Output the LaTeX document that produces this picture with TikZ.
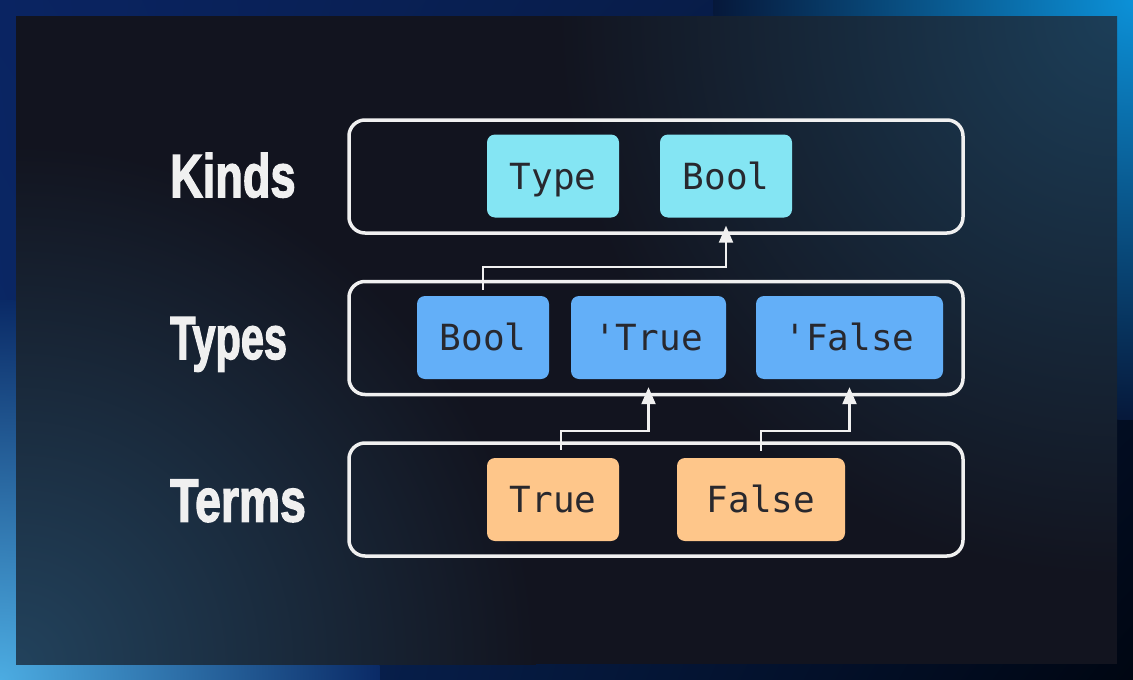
\documentclass[tikz,border=0pt]{standalone}
\usepackage{fontspec}
\usepackage{graphicx}
\usetikzlibrary{arrows.meta,shadings}
\newfontfamily\monofont{DejaVu Sans Mono}
\newfontfamily\lblfont[FakeBold=2.5]{Liberation Sans Bold}
\definecolor{cyanbox}{HTML}{84E5F3}
\definecolor{bluebox}{HTML}{63AFF8}
\definecolor{orangebox}{HTML}{FEC68A}
\definecolor{boxtext}{HTML}{28282E}
\definecolor{panel}{HTML}{12141F}
\definecolor{lineclr}{HTML}{F0F0F0}
\definecolor{navy}{HTML}{051430}
\definecolor{ulc}{HTML}{0A2462}
\definecolor{urc}{HTML}{06183A}
\definecolor{llc}{HTML}{0A2A66}
\definecolor{lrc}{HTML}{000612}
\definecolor{glowtr}{HTML}{0C91D8}
\definecolor{glowbl}{HTML}{4CACE2}
\definecolor{ptr}{HTML}{1C3E58}
\definecolor{pbl}{HTML}{22425C}
\tikzset{
  chip/.style={rounded corners=8pt, minimum height=83pt, inner sep=0pt, text=boxtext,
    font=\monofont\fontsize{36}{36}\selectfont, text height=26pt, text depth=0pt},
  layer/.style={draw=lineclr, line width=3.5pt, rounded corners=16pt, minimum width=614pt, minimum height=113pt, inner sep=0pt},
  arr/.style={draw=lineclr, line width=2.2pt, -{Triangle[width=14pt,length=17pt]}},
  lbl/.style={anchor=west, text=lineclr, inner sep=0pt, text height=44pt, text depth=0pt,
    font=\lblfont\fontsize{61}{61}\selectfont},
}
\begin{document}
\begin{tikzpicture}[x=1pt,y=-1pt]
\useasboundingbox (0,0) rectangle (1133,680);
% outer gradient frame
\begin{scope}
\clip (0,0) rectangle (1133,680);
\shade[upper left=ulc, upper right=urc, lower left=llc, lower right=lrc]
  (0,0) rectangle (1133,680);
\shade[inner color=glowtr, outer color=urc] (1133,0) circle (420);
\shade[inner color=glowbl, outer color=llc] (0,680) circle (380);
\end{scope}
% inner panel
\begin{scope}
\clip (16,16) rectangle (1117,664);
\fill[panel] (16,16) rectangle (1117,664);
\shade[inner color=ptr, outer color=panel] (1117,16) circle (560);
\shade[inner color=pbl, outer color=panel] (16,664) circle (520);
\end{scope}

% layer boxes
\node[layer] (Lk) at (656,176.5) {};
\node[layer] (Lt) at (656,338) {};
\node[layer] (Lm) at (656,499.5) {};

% labels
\node[lbl] (kinds) at (170,175) {\scalebox{0.74}[1]{Kinds}};
\node[lbl] (types) at (170,337) {\scalebox{0.68}[1]{Types}};
\node[lbl] (terms) at (170,499.5) {\scalebox{0.76}[1]{Terms}};

% chips
\node[chip, fill=cyanbox, minimum width=132pt] (K1) at (553,176) {Type};
\node[chip, fill=cyanbox, minimum width=132pt] (K2) at (726,176) {Bool};
\node[chip, fill=bluebox, minimum width=132pt] (T1) at (483,337.5) {Bool};
\node[chip, fill=bluebox, minimum width=155pt] (T2) at (648.5,337.5) {'True};
\node[chip, fill=bluebox, minimum width=187pt] (T3) at (849.5,337.5) {'False};
\node[chip, fill=orangebox, minimum width=132pt] (M1) at (553,499.5) {True};
\node[chip, fill=orangebox, minimum width=168pt] (M2) at (761,499.5) {False};

% connectors
\draw[arr] ([yshift=6pt]T1.north) -- ++(0,-23) -| ([yshift=-8pt]K2.south);
\draw[arr] ([xshift=8pt,yshift=8pt]M1.north) -- ++(0,-19) -| ([yshift=-8pt]T2.south);
\draw[arr] ([yshift=7pt]M2.north) -- ++(0,-20) -| ([yshift=-8pt]T3.south);
\end{tikzpicture}
\end{document}
